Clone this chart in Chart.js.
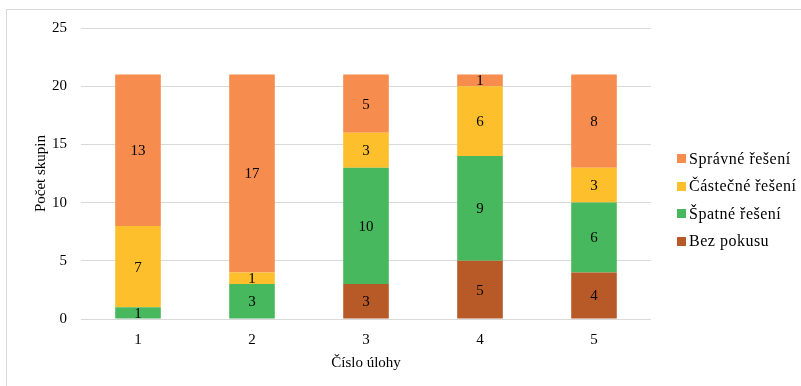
<!DOCTYPE html>
<html lang="cs">
<head>
<meta charset="utf-8">
<title>Počet skupin podle úlohy</title>
<script src="https://cdn.jsdelivr.net/npm/chart.js@4/dist/chart.umd.min.js"></script>
<style>
  html, body { margin: 0; padding: 0; background: #fff; }
  #wrap { position: relative; width: 801px; height: 386px; overflow: hidden; }
  #frame { position: absolute; left: 6px; top: 9px; width: 900px; height: 500px;
           border: 1px solid #d9d9d9; box-sizing: border-box; }
  #chart { position: absolute; left: 0; top: 0; }
  #legend { position: absolute; left: 677px; top: 145px; font-family: "Liberation Serif", "Times New Roman", serif;
            font-size: 16px; letter-spacing: 0.5px; color: #000; }
  #legend .item { display: flex; align-items: center; height: 27.5px; white-space: nowrap; }
  #legend .box { width: 9px; height: 9px; margin-right: 3px; flex: none; }
</style>
</head>
<body>
<div id="wrap">
  <div id="frame"></div>
  <canvas id="chart" width="801" height="386"></canvas>
  <div id="legend"></div>
</div>
<script>
// Úlohy (kategorie na ose x)
const categories = ['1', '2', '3', '4', '5'];

// Počty skupin podle výsledku řešení
const bezPokusu = [0, 0, 3, 5, 4];
const spatneReseni = [1, 3, 10, 9, 6];
const castecneReseni = [7, 1, 3, 6, 3];
const spravneReseni = [13, 17, 5, 1, 8];

const seriesNames = ['Bez pokusu', 'Špatné řešení', 'Částečné řešení', 'Správné řešení'];
const seriesColors = ['#b85a28', '#48b85f', '#fdbf2c', '#f68c4e'];

const yTicks = [0, 5, 10, 15, 20, 25];

const FONT = '"Liberation Serif", "Times New Roman", serif';

// Popisky hodnot uprostřed jednotlivých segmentů
const segmentLabels = {
  id: 'segmentLabels',
  afterDatasetsDraw(chart) {
    const ctx = chart.ctx;
    ctx.save();
    ctx.font = '15px ' + FONT;
    ctx.fillStyle = '#000';
    ctx.textAlign = 'center';
    ctx.textBaseline = 'middle';
    chart.data.datasets.forEach((ds, di) => {
      const meta = chart.getDatasetMeta(di);
      meta.data.forEach((bar, i) => {
        const v = ds.data[i];
        if (!v) return;
        const p = bar.getProps(['x', 'y', 'base'], true);
        ctx.fillText(String(v), p.x, (p.y + p.base) / 2 + 1);
      });
    });
    ctx.restore();
  }
};

const datasets = [bezPokusu, spatneReseni, castecneReseni, spravneReseni].map((d, k) => ({
  label: seriesNames[k],
  data: d,
  backgroundColor: seriesColors[k],
  borderWidth: 0,
  barPercentage: 0.4,
  categoryPercentage: 1.0
}));

new Chart(document.getElementById('chart'), {
  type: 'bar',
  data: { labels: categories, datasets },
  options: {
    responsive: false,
    animation: false,
    layout: { padding: { left: 32, right: 150, top: 28, bottom: 14 } },
    plugins: {
      legend: { display: false },
      tooltip: { enabled: false }
    },
    scales: {
      x: {
        stacked: true,
        grid: { display: false },
        border: { display: false },
        ticks: { color: '#000', font: { family: FONT, size: 15 }, padding: 4 },
        title: { display: true, text: 'Číslo úlohy', color: '#000',
                 font: { family: FONT, size: 15 }, padding: { top: 0, bottom: 0 } },
        afterFit(scale) { scale.height = 53; }
      },
      y: {
        stacked: true,
        min: 0,
        max: 25,
        afterBuildTicks(scale) { scale.ticks = yTicks.map(v => ({ value: v })); },
        grid: { color: '#d9d9d9', lineWidth: 1, drawTicks: false },
        border: { display: false },
        ticks: { color: '#000', font: { family: FONT, size: 15 }, padding: 14 },
        title: { display: true, text: 'Počet skupin', color: '#000',
                 font: { family: FONT, size: 15 }, padding: { top: 0, bottom: 0 } },
        afterFit(scale) { scale.width = 49; }
      }
    }
  },
  plugins: [segmentLabels]
});

// Legenda vpravo, v obráceném pořadí (shora dolů jako v grafu)
const legend = document.getElementById('legend');
for (let k = seriesNames.length - 1; k >= 0; k--) {
  const item = document.createElement('div');
  item.className = 'item';
  const box = document.createElement('span');
  box.className = 'box';
  box.style.background = seriesColors[k];
  const txt = document.createElement('span');
  txt.textContent = seriesNames[k];
  item.appendChild(box);
  item.appendChild(txt);
  legend.appendChild(item);
}
</script>
</body>
</html>
